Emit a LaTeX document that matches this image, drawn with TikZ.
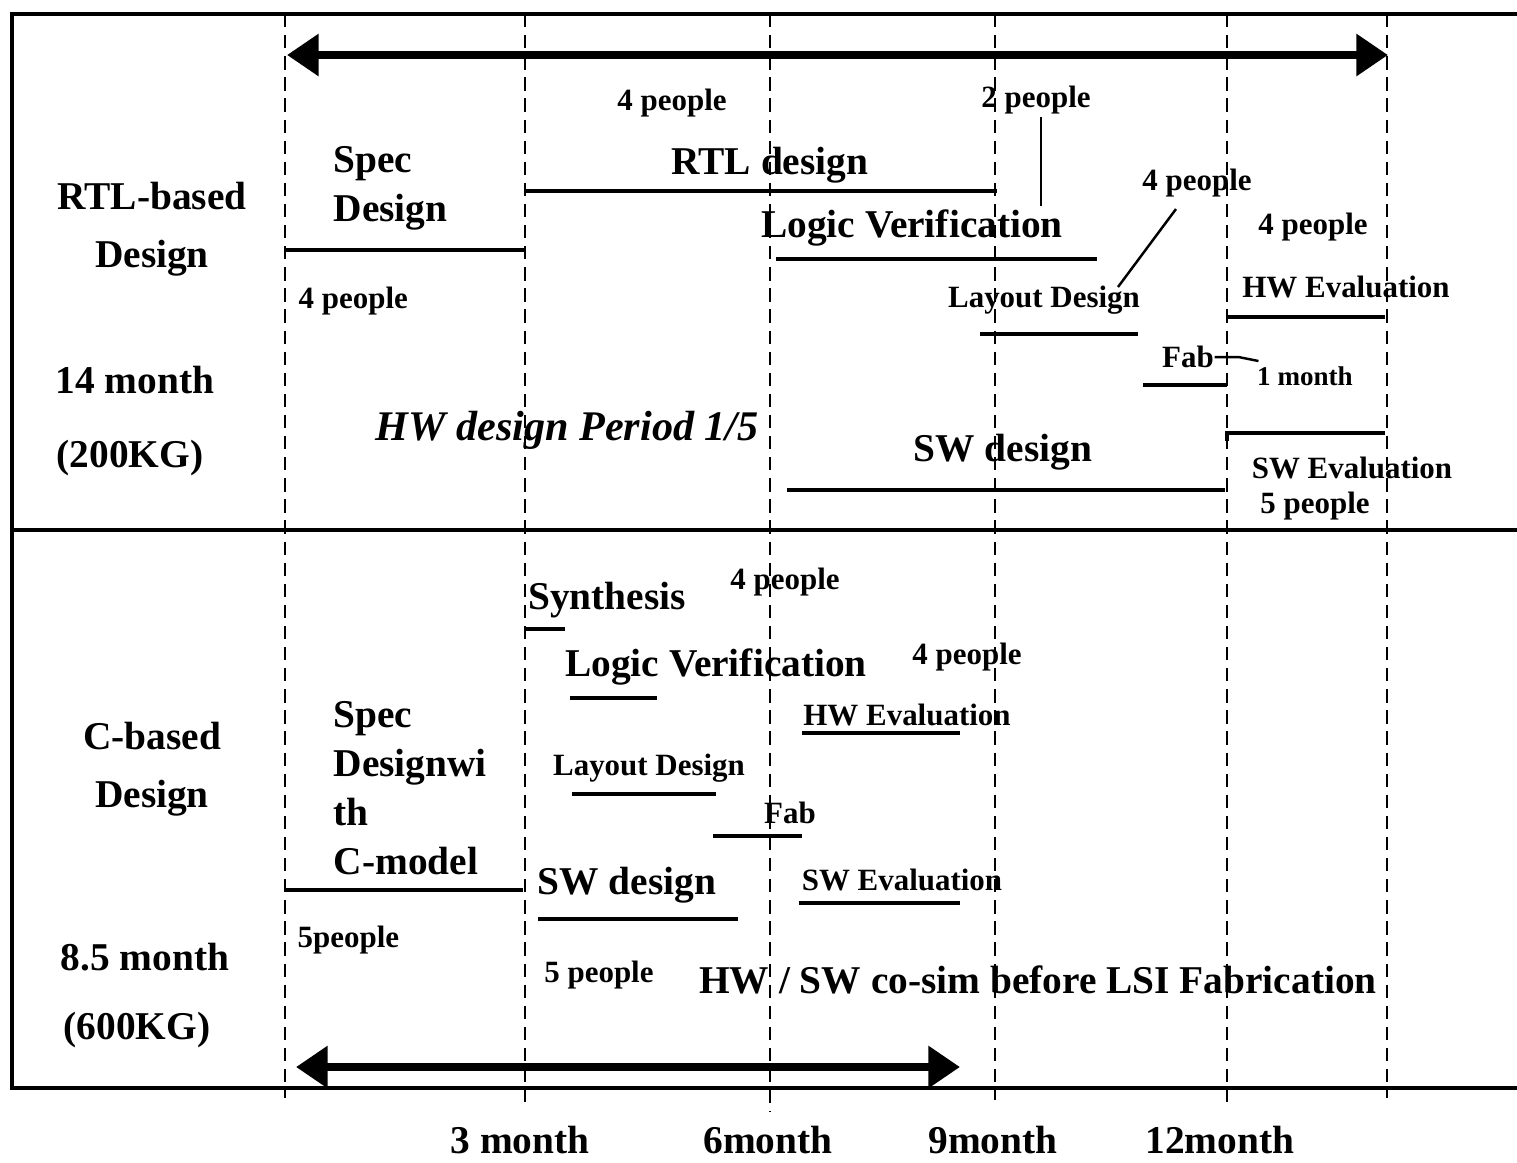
\documentclass[tikz,border=0pt]{standalone}
\usepackage{fontspec}
\setmainfont{Liberation Serif}
\usetikzlibrary{arrows.meta}

\tikzset{
    lbl/.style={font=\fontsize{11.2}{14}\selectfont\bfseries, inner sep=0pt},
    note/.style={font=\fontsize{8.8}{10}\selectfont\bfseries, inner sep=0pt},
    taskbar/.style={line width=1.1pt},
    leader/.style={line width=0.7pt},
    monthline/.style={line width=0.8pt, dash pattern=on 3.8pt off 2.2pt},
    period/.style={line width=2.4pt, {Triangle[length=9pt,width=11.5pt]}-{Triangle[length=9pt,width=11.5pt]}},
}

\begin{document}
\begin{tikzpicture}[x=0.01cm,y=-0.01cm]
    \useasboundingbox (0,0) rectangle (1517,1162);

    % frame
    \draw[line width=1.4pt] (1517,14) -- (12,14) -- (12,1088) -- (1517,1088);
    \draw[line width=1.4pt] (12,530) -- (1517,530);

    % month grid
    \foreach \x/\yb in {285/1098,525/1102,770/1112,995/1100,1227/1102,1387/1098}
        \draw[monthline] (\x,14) -- (\x,\yb);

    \node[lbl] (m3)  at (520,1140)  {3 month};
    \node[lbl] (m6)  at (768,1140)  {6month};
    \node[lbl] (m9)  at (993,1140)  {9month};
    \node[lbl] (m12) at (1220,1140) {12month};

    % RTL-based design
    \coordinate (topL) at (287,55);
    \coordinate (topR) at (1388,55);
    \draw[period] (topL) -- (topR);

    \node[lbl, align=center] (rtlbased) at (152,229) {RTL-based\\[2.5pt]Design};
    \node[lbl] (t14)  at (135,380) {14 month};
    \node[lbl] (t200) at (130,458) {(200KG)};

    \node[lbl, align=left, anchor=west] (spec1) at (333,188) {Spec\\Design};
    \draw[taskbar] (285,250) -- (525,250);
    \node[note, anchor=west] (ppl1) at (298,301) {4 people};

    \node[note] (ppl2) at (672,103) {4 people};
    \node[lbl] (rtld) at (770,165) {RTL design};
    \draw[taskbar] (525,191) -- (997,191);

    \node[note] (ppl3) at (1036,100) {2 people};
    \coordinate (lead2a) at (1041,117);
    \coordinate (lead2b) at (1041,206);
    \draw[leader] (lead2a) -- (lead2b);
    \node[lbl] (logv1) at (912,228) {Logic Verification};
    \draw[taskbar] (776,259) -- (1097,259);

    \node[note] (ppl4) at (1197,183) {4 people};
    \coordinate (lead1a) at (1176,209);
    \coordinate (lead1b) at (1118,287);
    \draw[leader] (lead1a) -- (lead1b);
    \node[note] (lay1) at (1044,300) {Layout Design};
    \draw[taskbar] (980,334) -- (1138,334);

    \node[note] (fab1) at (1188,357) {Fab};
    \node[font=\fontsize{7.7}{9}\selectfont\bfseries, inner sep=0pt] (onem) at (1305,376) {1 month};
    \draw[leader] (fab1.east) -- ++(24,0) -- ++(20,4);
    \draw[taskbar] (1143,385) -- (1227,385);

    \node[note] (ppl5) at (1313,227) {4 people};
    \node[note] (hwev1) at (1346,287) {HW Evaluation};
    \draw[taskbar] (1227,317) -- (1385,317);

    \node[font=\fontsize{12}{14}\selectfont\bfseries\itshape, inner sep=0pt] (hwper) at (567,430) {HW design Period 1/5};

    \node[lbl] (swd1) at (1003,452) {SW design};
    \draw[line width=1.3pt] (787,490) -- (1225,490);

    \draw[taskbar] (1227,441) -- (1227,433) -- (1385,433);
    \node[note] (swev1) at (1352,468) {SW Evaluation};
    \node[note] (ppl6) at (1315,506) {5 people};

    % C-based design
    \node[lbl, align=center] (cbased) at (152,769) {C-based\\[2.5pt]Design};
    \node[lbl] (t85)  at (145,957)  {8.5 month};
    \node[lbl] (t600) at (137,1030) {(600KG)};

    \node[lbl, align=left, anchor=west] (spec2) at (333,788) {Spec\\Designwi\\th\\C-model};
    \draw[taskbar] (285,890) -- (523,890);
    \node[note, anchor=west] (ppl7) at (297,940) {5people};

    \node[lbl] (synth) at (607,600) {Synthesis};
    \draw[taskbar] (525,629) -- (565,629);
    \node[note] (ppl8) at (785,582) {4 people};

    \node[lbl] (logv2) at (716,667) {Logic Verification};
    \draw[taskbar] (570,698) -- (657,698);
    \node[note] (ppl9) at (967,657) {4 people};

    \node[note] (hwev2) at (907,715) {HW Evaluation};
    \draw[taskbar] (802,733) -- (960,733);

    \node[note] (lay2) at (649,768) {Layout Design};
    \draw[taskbar] (572,794) -- (716,794);

    \node[note] (fab2) at (790,813) {Fab};
    \draw[taskbar] (713,836) -- (802,836);

    \node[lbl] (swd2) at (627,885) {SW design};
    \draw[line width=1.3pt] (538,919) -- (738,919);

    \node[note] (swev2) at (902,880) {SW Evaluation};
    \draw[line width=1.3pt] (799,903) -- (960,903);

    \node[note] (ppl10) at (599,975) {5 people};
    \node[lbl] (cosim) at (1038,980) {HW / SW co-sim before LSI Fabrication};

    \coordinate (botL) at (296,1067);
    \coordinate (botR) at (960,1067);
    \draw[period] (botL) -- (botR);
\end{tikzpicture}
\end{document}
